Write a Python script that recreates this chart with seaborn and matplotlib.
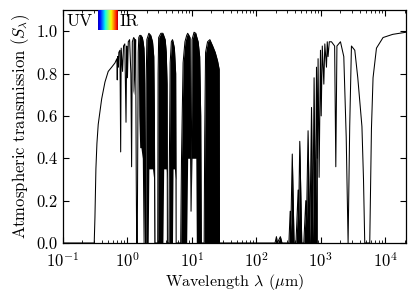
import matplotlib
matplotlib.use("Agg")
import matplotlib.pyplot as plt
import numpy as np
import seaborn as sns

# UV / visible / very near IR (single line, no dense line clusters)
wl_vis = [0.100, 0.300, 0.305, 0.313, 0.324, 0.336, 0.352, 0.398, 0.448, 0.503,
          0.569, 0.640, 0.685, 0.695, 0.705, 0.720, 0.735, 0.765, 0.785, 0.800,
          0.840, 0.870, 0.910, 0.950, 0.975, 1.000, 1.030, 1.080, 1.130, 1.160,
          1.190]
T_vis = [0.0, 0.0, 0.0, 0.12, 0.35, 0.47, 0.56, 0.68, 0.76, 0.81,
         0.83, 0.85, 0.87, 0.77, 0.88, 0.83, 0.90, 0.91, 0.43, 0.92,
         0.81, 0.93, 0.94, 0.57, 0.93, 0.78, 0.95, 0.96, 0.80, 0.36,
         0.95]

# near / mid IR windows: top of the line cluster and how deep the lines reach
wl_ir = [1.22, 1.25, 1.30, 1.34, 1.37, 1.39, 1.42, 1.44, 1.47,
         1.50, 1.55, 1.62, 1.70, 1.75, 1.80, 1.84, 1.87, 1.89, 1.92,
         1.95, 2.00, 2.10, 2.15, 2.30, 2.45, 2.56, 2.62, 2.66, 2.95,
         2.99, 3.05, 3.30, 3.55, 3.65, 3.85, 4.00, 4.12, 4.17, 4.40,
         4.45, 4.60, 4.80, 5.00, 5.10, 5.35, 5.60, 5.70, 6.70,
         6.90, 7.30, 7.80, 8.30, 8.60, 9.00, 9.35, 9.70, 10.05, 10.8, 11.5,
         11.7, 12.5, 13.2, 13.7, 14.0, 15.5,
         15.8, 16.3, 17.5, 19.0, 21.0, 23.0, 25.0, 26.5, 26.8]
T_ir = [0.96, 0.97, 0.96, 0.96, 0.30, 0.00, 0.00, 0.40, 0.90,
        0.97, 0.98, 0.98, 0.97, 0.95, 0.92, 0.85, 0.40, 0.00, 0.00,
        0.75, 0.96, 0.98, 0.99, 0.98, 0.95, 0.88, 0.60, 0.00, 0.00,
        0.80, 0.97, 0.99, 0.99, 0.98, 0.96, 0.90, 0.75, 0.00, 0.00,
        0.30, 0.85, 0.95, 0.96, 0.95, 0.92, 0.80, 0.00, 0.00,
        0.40, 0.85, 0.95, 0.98, 0.99, 0.98, 0.97, 0.15, 0.96, 0.995, 0.99,
        0.98, 0.95, 0.88, 0.60, 0.00, 0.00,
        0.50, 0.90, 0.95, 0.96, 0.93, 0.90, 0.86, 0.82, 0.00]
floor_ir = [0.72, 0.70, 0.80, 0.96, 0.30, 0.00, 0.00, 0.40, 0.90,
            0.60, 0.45, 0.45, 0.40, 0.00, 0.00, 0.30, 0.40, 0.00, 0.00,
            0.00, 0.00, 0.00, 0.35, 0.35, 0.35, 0.30, 0.00, 0.00, 0.00,
            0.00, 0.00, 0.00, 0.00, 0.35, 0.35, 0.35, 0.30, 0.00, 0.00,
            0.00, 0.00, 0.00, 0.00, 0.35, 0.35, 0.30, 0.00, 0.00,
            0.00, 0.00, 0.00, 0.00, 0.40, 0.40, 0.40, 0.15, 0.40, 0.40, 0.40,
            0.00, 0.00, 0.00, 0.00, 0.00, 0.00,
            0.00, 0.00, 0.00, 0.00, 0.00, 0.00, 0.00, 0.00, 0.00]

# sub-millimetre windows (narrow spikes, filled underneath)
wl_smm = [195, 205, 212, 236, 250, 320, 335, 342, 361, 385, 412, 445, 452, 472,
          507, 545, 585, 600, 635, 675, 718, 751, 787, 822, 858, 885]
T_smm = [0.0, 0.03, 0.0, 0.03, 0.0, 0.0, 0.15, 0.05, 0.42, 0.0, 0.0, 0.25, 0.10, 0.48,
         0.0, 0.0, 0.20, 0.10, 0.53, 0.0, 0.64, 0.02, 0.78, 0.05, 0.83, 0.40]

# millimetre / centimetre (plain line)
wl_mm = [908, 942, 989, 1015, 1055, 1115, 1155, 1225, 1260, 1297, 1355, 1465,
         1640, 1710, 1780, 2020, 2275, 2480, 2653, 2810, 2990, 3370, 3750, 4350,
         4600, 4810, 5750, 6110, 6470, 7310, 9250, 13060, 21000]
T_mm = [0.87, 0.31, 0.91, 0.60, 0.93, 0.75, 0.94, 0.83, 0.95, 0.88, 0.95, 0.95,
        0.93, 0.36, 0.93, 0.95, 0.88, 0.50, 0.0, 0.55, 0.93, 0.91, 0.78, 0.55,
        0.30, 0.0, 0.0, 0.54, 0.78, 0.92, 0.97, 0.985, 0.995]

wavelength = wl_vis + wl_ir + wl_smm + wl_mm
transmission = T_vis + T_ir + T_smm + T_mm

sns.set_theme(style="ticks", rc={
    "axes.edgecolor": "black", "axes.linewidth": 0.9,
    "xtick.color": "black", "ytick.color": "black", "text.color": "black",
    "axes.labelcolor": "black",
})
plt.rcParams["font.family"] = ["cmr10", "DejaVu Serif"]
plt.rcParams["mathtext.fontset"] = "cm"
plt.rcParams["axes.formatter.use_mathtext"] = True
plt.rcParams["axes.unicode_minus"] = False

fig = plt.figure(figsize=(4.16, 3.03), dpi=100)
ax = fig.add_axes([63 / 416, 1 - 243 / 303, 343 / 416, 233 / 303])
ax.set_xscale("log")

sns.lineplot(x=wavelength, y=transmission, color="black", lw=0.75,
             estimator=None, sort=False, ax=ax)
ax.fill_between(wl_ir, floor_ir, T_ir, color="black", lw=0)
ax.fill_between(wl_smm, 0, T_smm, color="black", lw=0)

ax.set_xlim(0.1, 2.1e4)
ax.set_ylim(0, 1.1)
ax.set_yticks([0.0, 0.2, 0.4, 0.6, 0.8, 1.0])
ax.set_yticklabels(["0.0", "0.2", "0.4", "0.6", "0.8", "1.0"])
ax.tick_params(which="both", direction="in", top=True, right=True, labelsize=12)
ax.tick_params(which="major", length=4.5, width=0.8)
ax.tick_params(which="minor", length=2.2, width=0.6)
ax.tick_params(axis="x", which="major", pad=6)
ax.tick_params(axis="y", which="major", pad=4)
ax.tick_params(axis="y", which="minor", left=False, right=False)

ax.set_xlabel(r"Wavelength $\lambda$ ($\mu$m)", fontsize=11.5, labelpad=1)
ax.set_ylabel(r"Atmospheric transmission $(S_\lambda)$", fontsize=12, labelpad=3)

# UV -> IR colour strip
ax.text(0.047, 0.953, "UV", transform=ax.transAxes, ha="center", va="center", fontsize=12.5)
ax.text(0.194, 0.953, "IR", transform=ax.transAxes, ha="center", va="center", fontsize=12.5)
cax = fig.add_axes([98 / 416, 1 - 30 / 303, 20 / 416, 20 / 303])
cax.imshow(np.linspace(0.05, 0.95, 64)[None, :], cmap="jet", aspect="auto",
           vmin=0, vmax=1)
cax.set_axis_off()

fig.savefig("out.png", dpi=100)
